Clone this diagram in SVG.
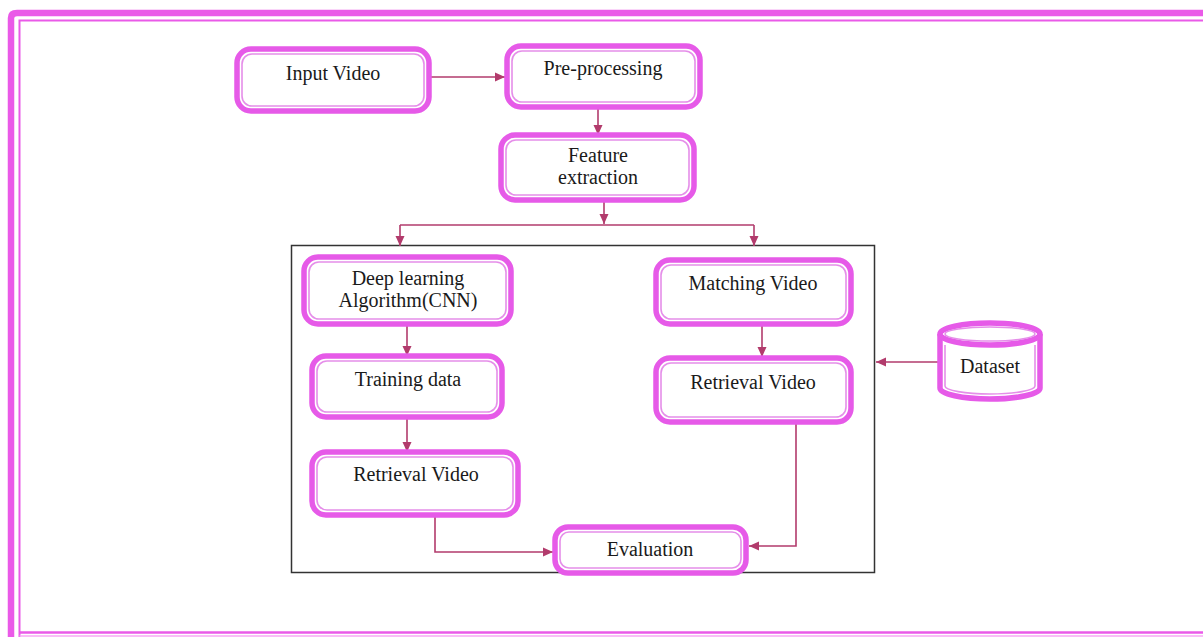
<svg xmlns="http://www.w3.org/2000/svg" width="1203" height="637" viewBox="0 0 1203 637">
<style>
.o{fill:#fff;stroke:#e65ae8;stroke-width:5.5}
.i{fill:none;stroke:#e58ee9;stroke-width:1.6}
.t{font-family:"Liberation Serif","Times New Roman",serif;font-size:20px;fill:#1a1a1a;text-anchor:middle}
.c{fill:none;stroke:#b23b6c;stroke-width:1.6}
</style>
<defs>
<marker id="a" viewBox="0 0 10 10" refX="10" refY="5" markerWidth="10" markerHeight="10" markerUnits="userSpaceOnUse" orient="auto">
<path d="M0,0.5 L10,5 L0,9.5 Z" fill="#b23b6c"/>
</marker>
</defs>
<rect width="1203" height="637" fill="#fff"/>
<g id="frame">
<path d="M11 637 V18 Q11 13 17 13 H1203" fill="none" stroke="#ea5ae8" stroke-width="6.5"/>
<path d="M19.5 637 V20.5 H1203" fill="none" stroke="#ea5ae8" stroke-width="2"/>
<path d="M19.5 632.5 H1203" fill="none" stroke="#ea5ae8" stroke-width="2.5"/>
<path d="M19.5 636 H1203" fill="none" stroke="#f7a8f5" stroke-width="1.5"/>
</g>
<g id="container"><rect x="291.5" y="245.5" width="583" height="327" fill="none" stroke="#333" stroke-width="1.5"/></g>
<g id="connectors">
<path class="c" d="M430 77 H505" marker-end="url(#a)"/>
<path class="c" d="M598 108 V135" marker-end="url(#a)"/>
<path class="c" d="M604 202 V224" marker-end="url(#a)"/>
<path class="c" d="M400 225 H754"/>
<path class="c" d="M400 225 V246" marker-end="url(#a)"/>
<path class="c" d="M754 225 V246" marker-end="url(#a)"/>
<path class="c" d="M407 325 V356" marker-end="url(#a)"/>
<path class="c" d="M407 418 V452" marker-end="url(#a)"/>
<path class="c" d="M435 516 V552 H553" marker-end="url(#a)"/>
<path class="c" d="M762 325 V357" marker-end="url(#a)"/>
<path class="c" d="M796 423 V546 H749" marker-end="url(#a)"/>
<path class="c" d="M938 362 H876" marker-end="url(#a)"/>
</g>
<g id="input-video">
<rect class="o" x="237" y="49" width="192" height="62" rx="14"/>
<rect class="i" x="242" y="54" width="182" height="52" rx="10"/>
<text class="t" x="333" y="80">Input Video</text>
</g>
<g id="pre-processing">
<rect class="o" x="507" y="46" width="193" height="61" rx="14"/>
<rect class="i" x="512" y="51" width="183" height="51" rx="10"/>
<text class="t" x="603" y="75">Pre-processing</text>
</g>
<g id="feature-extraction">
<rect class="o" x="501" y="135" width="193" height="65" rx="14"/>
<rect class="i" x="506" y="140" width="183" height="55" rx="10"/>
<text class="t" x="598" y="162">Feature</text>
<text class="t" x="598" y="184">extraction</text>
</g>
<g id="deep-learning">
<rect class="o" x="304" y="257" width="207" height="67" rx="14"/>
<rect class="i" x="309" y="262" width="197" height="57" rx="10"/>
<text class="t" x="408" y="285">Deep learning</text>
<text class="t" x="408" y="307">Algorithm(CNN)</text>
</g>
<g id="training-data">
<rect class="o" x="312" y="356" width="190" height="61" rx="14"/>
<rect class="i" x="317" y="361" width="180" height="51" rx="10"/>
<text class="t" x="408" y="386">Training data</text>
</g>
<g id="retrieval-left">
<rect class="o" x="312" y="452" width="206" height="63" rx="14"/>
<rect class="i" x="317" y="457" width="196" height="53" rx="10"/>
<text class="t" x="416" y="481">Retrieval Video</text>
</g>
<g id="matching-video">
<rect class="o" x="656" y="260" width="195" height="64" rx="14"/>
<rect class="i" x="661" y="265" width="185" height="54" rx="10"/>
<text class="t" x="753" y="290">Matching Video</text>
</g>
<g id="retrieval-right">
<rect class="o" x="656" y="358" width="195" height="64" rx="14"/>
<rect class="i" x="661" y="363" width="185" height="54" rx="10"/>
<text class="t" x="753" y="389">Retrieval Video</text>
</g>
<g id="evaluation">
<rect class="o" x="555" y="527" width="191" height="46" rx="13"/>
<rect class="i" x="560" y="532" width="181" height="36" rx="9"/>
<text class="t" x="650" y="556">Evaluation</text>
</g>
<g id="dataset">
<path class="o" d="M940 334 V388 A50 11 0 0 0 1040 388 V334"/>
<ellipse class="o" cx="990" cy="334" rx="50" ry="11"/>
<path class="i" d="M945 345 V386 A45 8 0 0 0 1035 386 V345"/>
<ellipse class="i" cx="990" cy="334" rx="45" ry="7"/>
<text class="t" x="990" y="373">Dataset</text>
</g>
</svg>
